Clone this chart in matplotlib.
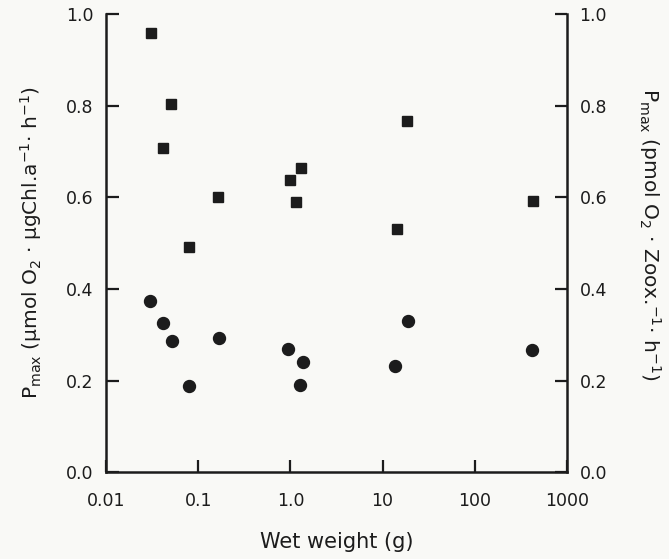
import matplotlib
matplotlib.use("Agg")
import matplotlib.pyplot as plt

# Data
sq_x = [0.0308, 0.0503, 0.0412, 0.0794, 0.164, 0.982, 1.30, 1.15, 18.5, 14.4, 428]
sq_y = [0.958, 0.803, 0.708, 0.491, 0.600, 0.638, 0.665, 0.589, 0.767, 0.530, 0.592]

ci_x = [0.030, 0.0418, 0.0524, 0.080, 0.167, 0.942, 1.36, 1.27, 18.8, 13.6, 421]
ci_y = [0.374, 0.325, 0.286, 0.189, 0.292, 0.268, 0.241, 0.190, 0.331, 0.233, 0.266]

x_ticks = [0.01, 0.1, 1.0, 10, 100, 1000]
x_ticklabels = ["0.01", "0.1", "1.0", "10", "100", "1000"]
y_ticks = [0.0, 0.2, 0.4, 0.6, 0.8, 1.0]
y_ticklabels = ["0.0", "0.2", "0.4", "0.6", "0.8", "1.0"]

plt.rcParams['font.family'] = ['DejaVu Sans']
plt.rcParams['mathtext.default'] = 'regular'

ink = '#1c1c1c'
bg = '#f9f9f6'

fig = plt.figure(figsize=(6.69, 5.59), dpi=100, facecolor=bg)
ax = fig.add_axes([106/669, 1 - 472.3/559, (567-106)/669, (472.3-14)/559])
ax.set_facecolor(bg)

ax.plot(sq_x, sq_y, linestyle='none', marker='s', markersize=7.3, color=ink, clip_on=False)
ax.plot(ci_x, ci_y, linestyle='none', marker='o', markersize=8.6, color=ink, clip_on=False)

ax.set_xscale('log')
ax.set_xlim(0.01, 1000)
ax.set_ylim(0, 1.0)
ax.set_xticks(x_ticks)
ax.set_xticklabels(x_ticklabels)
ax.minorticks_off()
ax.set_yticks(y_ticks)
ax.set_yticklabels(y_ticklabels)

for s in ['left', 'right', 'bottom']:
    ax.spines[s].set_linewidth(1.8)
    ax.spines[s].set_color(ink)
ax.spines['top'].set_visible(False)

ax.tick_params(axis='x', direction='in', length=9, width=1.6, colors=ink,
               labelsize=12.5, pad=14)
ax.tick_params(axis='y', direction='in', length=9, width=1.6, colors=ink,
               labelsize=12.5, pad=9, left=True, right=True,
               labelleft=True, labelright=True)

ax.set_xlabel('Wet weight (g)', fontsize=15, color=ink, labelpad=16)
ax.set_ylabel('P$_{max}$ (µmol O$_2$ · µgChl.a$^{-1}$· h$^{-1}$)',
              fontsize=14.5, color=ink, labelpad=16)

ax.text(1.0 + 83/461, 0.52, 'P$_{max}$ (pmol O$_2$ · Zoox.$^{-1}$· h$^{-1}$)',
        transform=ax.transAxes, rotation=-90, fontsize=14.5, color=ink,
        ha='center', va='center')

fig.savefig('out.png', dpi=100, facecolor=bg)
